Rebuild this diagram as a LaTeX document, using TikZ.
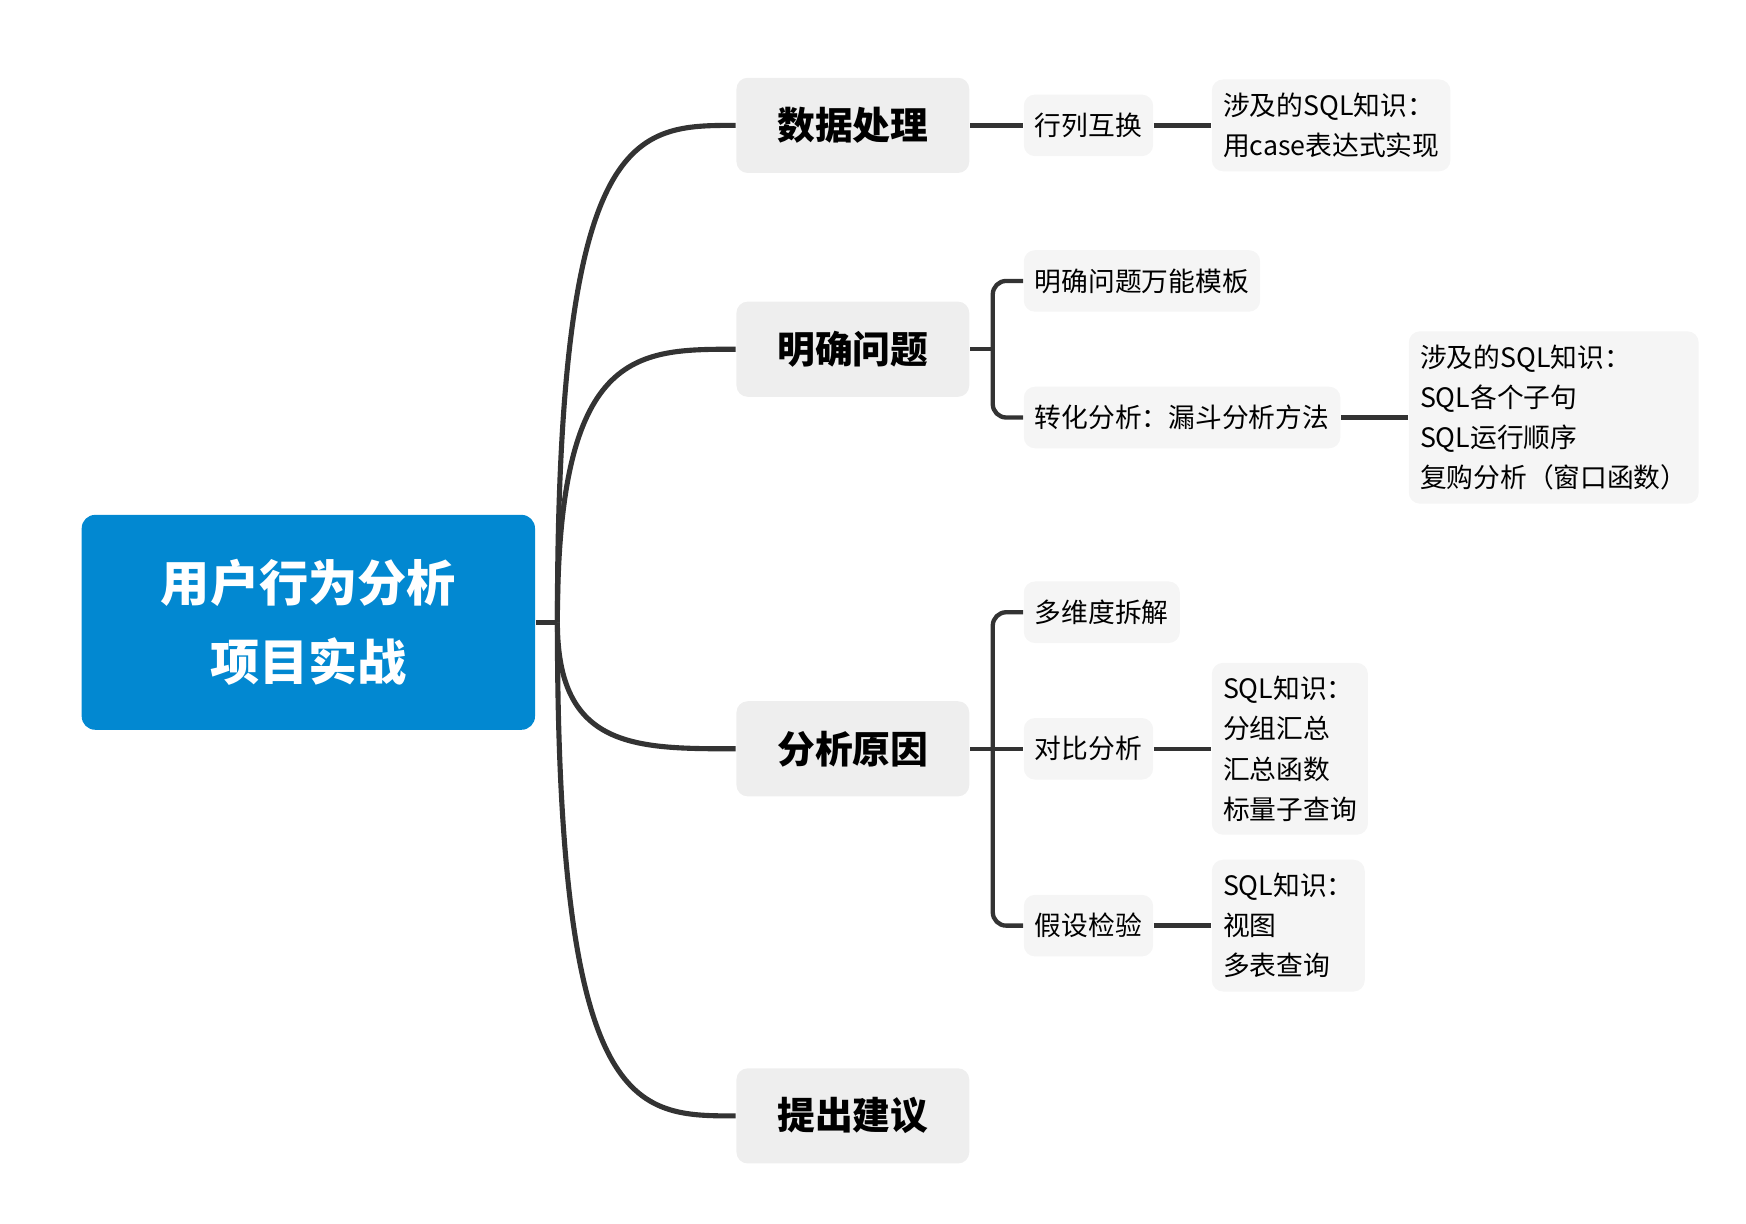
\documentclass[tikz,border=0pt]{standalone}
\usepackage{fontspec}
\setmainfont{Noto Sans CJK SC}
\usetikzlibrary{positioning}
\definecolor{rootblue}{HTML}{0288D1}
\definecolor{mainfill}{HTML}{EEEEEE}
\definecolor{subfill}{HTML}{F5F5F5}
\definecolor{linegray}{HTML}{333333}
\tikzset{
  root/.style={fill=rootblue, text=white, rounded corners=0.12cm, minimum width=4.05cm,
    minimum height=1.92cm, align=center, font=\fontsize{12.5}{20}\selectfont\bfseries},
  branch/.style={fill=mainfill, rounded corners=0.1cm, minimum width=2.08cm,
    minimum height=0.85cm, font=\fontsize{9.6}{12}\selectfont\bfseries},
  leaf/.style={fill=subfill, rounded corners=0.1cm, minimum height=0.55cm, inner xsep=0.1cm,
    align=left, font=\fontsize{6.8}{10.2}\selectfont},
  link/.style={draw=linegray, line width=1.1pt},
  curve/.style={draw=linegray, line width=1.3pt}
}
\begin{document}
\begin{tikzpicture}[x=1cm, y=1cm]
\useasboundingbox (0,0) rectangle (15.6,-10.93);

% centre topic
\node[root] (topic) at (2.755,-5.56) {用户行为分析\\项目实战};
\coordinate (hub) at (4.98,-5.56);

% main branches
\node[branch] (data)   at (7.62,-1.12) {数据处理};
\node[branch] (goal)   at (7.62,-3.12) {明确问题};
\node[branch] (reason) at (7.62,-6.69) {分析原因};
\node[branch] (advice) at (7.62,-9.97) {提出建议};

\draw[curve] (topic.east) -- (hub);
\foreach \b in {data,goal,reason,advice}
  \draw[curve] (hub) .. controls (hub |- \b.west) and ([xshift=-0.9cm]\b.west) .. (\b.west);

% 数据处理
\node[leaf, anchor=west] (swap) at (9.14,-1.12) {行列互换};
\node[leaf, anchor=west, inner ysep=0.12cm] (swapsql) at (10.82,-1.12)
  {涉及的SQL知识：\\用case表达式实现};
\draw[link] (data) -- (swap);
\draw[link] (swap) -- (swapsql);

% 明确问题
\node[leaf, anchor=west] (tmpl)   at (9.14,-2.51) {明确问题万能模板};
\node[leaf, anchor=west] (funnel) at (9.14,-3.73) {转化分析：漏斗分析方法};
\node[leaf, anchor=west, inner ysep=0.12cm] (funnelsql) at (12.58,-3.73)
  {涉及的SQL知识：\\SQL各个子句\\SQL运行顺序\\复购分析（窗口函数）};
\coordinate (jgoal) at (8.87,-3.12);
\draw[link] (goal) -- (jgoal);
\draw[link, rounded corners=0.12cm] (tmpl.west) -| (jgoal) |- (funnel.west);
\draw[link] (funnel) -- (funnelsql);

% 分析原因
\node[leaf, anchor=west] (dims)    at (9.14,-5.47) {多维度拆解};
\node[leaf, anchor=west] (compare) at (9.14,-6.69) {对比分析};
\node[leaf, anchor=west] (hypo)    at (9.14,-8.27) {假设检验};
\node[leaf, anchor=west, inner ysep=0.12cm] (comparesql) at (10.82,-6.69)
  {SQL知识：\\分组汇总\\汇总函数\\标量子查询};
\node[leaf, anchor=west, inner ysep=0.12cm] (hyposql) at (10.82,-8.27)
  {SQL知识：\\视图\\多表查询};
\coordinate (jreason) at (8.87,-6.69);
\draw[link] (reason) -- (compare);
\draw[link, rounded corners=0.12cm] (dims.west) -| (jreason) |- (hypo.west);
\draw[link] (compare) -- (comparesql);
\draw[link] (hypo) -- (hyposql.west |- hypo);

\end{tikzpicture}
\end{document}
